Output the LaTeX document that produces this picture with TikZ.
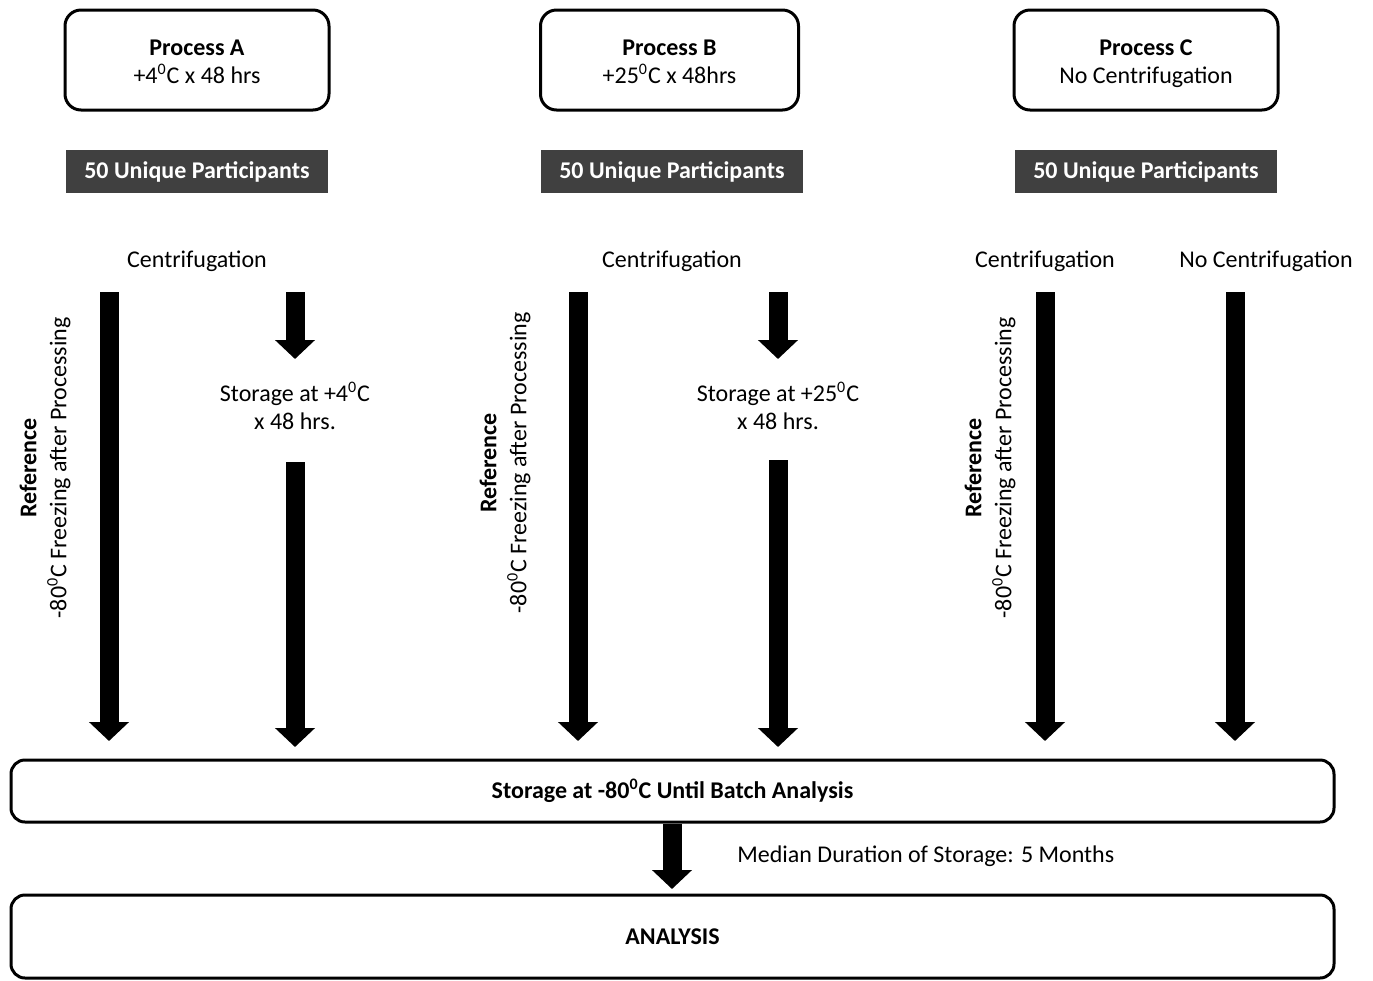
\documentclass[tikz,border=0pt]{standalone}
\usepackage{fontspec}
\setmainfont{Carlito}
\usetikzlibrary{arrows.meta, positioning}

\definecolor{darkbox}{RGB}{64,64,64}

\newcommand{\basefont}{\fontsize{12}{14}\selectfont}
\newcommand{\degz}{\textsuperscript{0}}
\newcommand{\topstrut}{\rule{0pt}{13.8pt}}

\tikzset{
  procbox/.style={draw, line width=1.5pt, rounded corners=8pt, align=center,
    minimum width=132pt, minimum height=50pt},
  partbox/.style={fill=darkbox, text=white, font=\basefont\bfseries,
    minimum width=131pt, minimum height=21.5pt},
  widebox/.style={draw, line width=1.5pt, rounded corners=7pt, font=\basefont\bfseries,
    minimum width=661.5pt},
  fatarrow/.style={line width=9.5pt, -{Triangle[width=19.5pt,length=9.5pt]}},
  sidelabel/.style={rotate=90, align=center, font=\fontsize{12}{15}\selectfont}
}

\begin{document}
\begin{tikzpicture}[x=0.5pt, y=-0.5pt, font=\basefont]
\useasboundingbox (0,0) rectangle (1373,981);

% Process boxes
\node[procbox] (procA) at (197,60) {\topstrut\textbf{Process A}\\+4\degz C x 48 hrs\strut};
\node[procbox, minimum width=129pt] (procB) at (669.5,60) {\topstrut\textbf{Process B}\\+25\degz C x 48hrs\strut};
\node[procbox] (procC) at (1146,60) {\topstrut\textbf{Process C}\\No Centrifugation\strut};

% Participants
\node[partbox] (partA) at (197,171.5) {50 Unique Participants};
\node[partbox] (partB) at (672,171.5) {50 Unique Participants};
\node[partbox] (partC) at (1146,171.5) {50 Unique Participants};

% Branch labels
\node (centA) at (197,261) {Centrifugation};
\node (centB) at (672,261) {Centrifugation};
\node (centC) at (1045,261) {Centrifugation};
\node (nocentC) at (1266,261) {No Centrifugation};

% Reference freezing labels
\node[sidelabel] (refA) at (45,468) {\textbf{Reference}\\-80\degz C Freezing after Processing};
\node[sidelabel] (refB) at (505,463) {\textbf{Reference}\\-80\degz C Freezing after Processing};
\node[sidelabel] (refC) at (990,468) {\textbf{Reference}\\-80\degz C Freezing after Processing};

% Intermediate storage
\node[align=center] (storeA) at (295,406) {Storage at +4\degz C\\x 48 hrs.};
\node[align=center] (storeB) at (778,406) {Storage at +25\degz C\\x 48 hrs.};

% Freezer and analysis
\node[widebox, minimum height=31pt] (freezer) at (672.5,791) {Storage at -80\degz C Until Batch Analysis};
\node[widebox, minimum height=41.5pt] (analysis) at (672.5,936.5) {ANALYSIS};
\node[anchor=west, inner sep=0pt] (median) at (737,856) {Median Duration of Storage: 5 Months};

% Arrow end points
\coordinate (a1s) at (109,292);  \coordinate (a1e) at (109,741);
\coordinate (a2s) at (295,292);  \coordinate (a2e) at (295,359);
\coordinate (a3s) at (295,462);  \coordinate (a3e) at (295,747);
\coordinate (b1s) at (578,292);  \coordinate (b1e) at (578,741);
\coordinate (b2s) at (778,292);  \coordinate (b2e) at (778,359);
\coordinate (b3s) at (778,460);  \coordinate (b3e) at (778,747);
\coordinate (c1s) at (1045,292); \coordinate (c1e) at (1045,741);
\coordinate (c2s) at (1235,292); \coordinate (c2e) at (1235,741);
\coordinate (fe) at (672,889);

% Arrows
\foreach \s/\e in {a1s/a1e, a2s/a2e, a3s/a3e, b1s/b1e, b2s/b2e, b3s/b3e, c1s/c1e, c2s/c2e}
  \draw[fatarrow] (\s) -- (\e);
\draw[fatarrow] (freezer.south -| fe) -- (fe);
\end{tikzpicture}
\end{document}
